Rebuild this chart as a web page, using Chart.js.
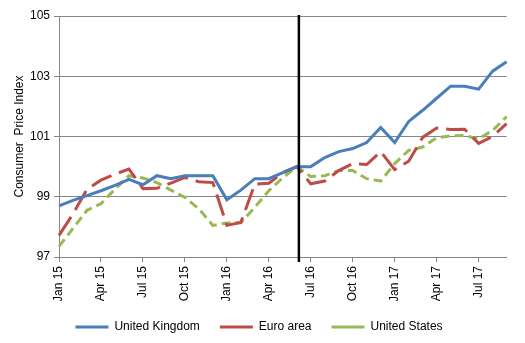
<!DOCTYPE html>
<html>
<head>
<meta charset="utf-8">
<script src="https://cdn.jsdelivr.net/npm/chart.js@4.4.1/dist/chart.umd.min.js"></script>
<style>
  html, body { margin: 0; padding: 0; background: #ffffff; }
</style>
</head>
<body>
<canvas id="cpiChart" width="525" height="343"></canvas>
<script>
// monthly index, Jan 2015 - Sep 2017
const months = [
  'Jan 15', 'Feb 15', 'Mar 15', 'Apr 15', 'May 15', 'Jun 15', 'Jul 15', 'Aug 15', 'Sep 15', 'Oct 15', 'Nov 15', 'Dec 15',
  'Jan 16', 'Feb 16', 'Mar 16', 'Apr 16', 'May 16', 'Jun 16', 'Jul 16', 'Aug 16', 'Sep 16', 'Oct 16', 'Nov 16', 'Dec 16',
  'Jan 17', 'Feb 17', 'Mar 17', 'Apr 17', 'May 17', 'Jun 17', 'Jul 17', 'Aug 17', 'Sep 17'
];
const ukCpi = [
  98.7, 98.88, 99.04, 99.2, 99.38, 99.58, 99.4, 99.7, 99.6, 99.7, 99.7, 99.7,
  98.9, 99.22, 99.6, 99.6, 99.8, 100.0, 100.0, 100.3, 100.5, 100.6, 100.8, 101.3,
  100.8, 101.5, 101.87, 102.27, 102.67, 102.67, 102.57, 103.17, 103.48
];
const euroCpi = [
  97.72, 98.43, 99.25, 99.55, 99.75, 99.92, 99.27, 99.28, 99.45, 99.64, 99.5, 99.47,
  98.05, 98.15, 99.42, 99.45, 99.8, 100.0, 99.43, 99.52, 99.87, 100.1, 100.07, 100.5,
  99.9, 100.18, 100.97, 101.28, 101.23, 101.24, 100.77, 101.0, 101.43
];
const usCpi = [
  97.35, 97.95, 98.55, 98.77, 99.25, 99.7, 99.62, 99.47, 99.22, 98.98, 98.6, 98.05,
  98.13, 98.14, 98.65, 99.2, 99.63, 100.0, 99.67, 99.7, 99.87, 99.87, 99.6, 99.52,
  100.1, 100.54, 100.65, 100.96, 101.02, 101.03, 100.92, 101.2, 101.66
];
const yTicks = [97, 99, 101, 103, 105];
const referendumMonth = 'Jun 16';

const axisGrey = '#868686';

Chart.defaults.font.family = "'Liberation Sans', Arial, sans-serif";
Chart.defaults.font.size = 12;
Chart.defaults.color = '#000000';

// black vertical marker at the referendum (late June 2016)
const referendumLine = {
  id: 'referendumLine',
  afterDatasetsDraw(chart) {
    const { ctx, chartArea, scales } = chart;
    const px = scales.x.getPixelForValue(months.indexOf(referendumMonth) + 0.15);
    ctx.save();
    ctx.strokeStyle = '#000000';
    ctx.lineWidth = 2.5;
    ctx.beginPath();
    ctx.moveTo(px, chartArea.top - 1);
    ctx.lineTo(px, chartArea.bottom + 5);
    ctx.stroke();
    ctx.restore();
  }
};

new Chart(document.getElementById('cpiChart'), {
  type: 'line',
  data: {
    labels: months,
    datasets: [
      {
        label: 'United Kingdom',
        data: ukCpi,
        borderColor: '#4A7EBB',
        backgroundColor: '#4A7EBB',
        borderWidth: 3,
        pointRadius: 0,
        tension: 0
      },
      {
        label: 'Euro area',
        data: euroCpi,
        borderColor: '#BE4B48',
        backgroundColor: '#BE4B48',
        borderWidth: 3,
        borderDash: [22, 8],
        pointRadius: 0,
        tension: 0
      },
      {
        label: 'United States',
        data: usCpi,
        borderColor: '#98B954',
        backgroundColor: '#98B954',
        borderWidth: 3,
        borderDash: [9, 5],
        pointRadius: 0,
        tension: 0
      }
    ]
  },
  options: {
    responsive: false,
    animation: false,
    layout: { padding: { left: 10, right: 17, top: 16, bottom: 0 } },
    scales: {
      x: {
        type: 'category',
        offset: false,
        grid: {
          drawOnChartArea: false,
          tickLength: 5,
          tickColor: (c) => (c.index % 3 === 0 ? axisGrey : 'rgba(0,0,0,0)')
        },
        border: { color: axisGrey },
        ticks: {
          autoSkip: false,
          maxRotation: 90,
          minRotation: 90,
          padding: 4,
          callback: (v, i) => (i % 3 === 0 ? months[i] : '')
        },
        afterFit: (s) => { s.height = 44; }
      },
      y: {
        min: 97,
        max: 105,
        afterBuildTicks: (s) => { s.ticks = yTicks.map(v => ({ value: v })); },
        grid: { color: axisGrey, tickLength: 5 },
        border: { color: axisGrey },
        ticks: { padding: 4 },
        title: {
          display: true,
          text: 'Consumer  Price Index',
          padding: { top: 2, bottom: 0 }
        },
        afterFit: (s) => { s.width = 49; }
      }
    },
    plugins: {
      legend: {
        position: 'bottom',
        labels: {
          usePointStyle: true,
          pointStyle: 'line',
          pointStyleWidth: 33,
          padding: 20
        }
      },
      tooltip: { enabled: false }
    }
  },
  plugins: [referendumLine]
});
</script>
</body>
</html>
